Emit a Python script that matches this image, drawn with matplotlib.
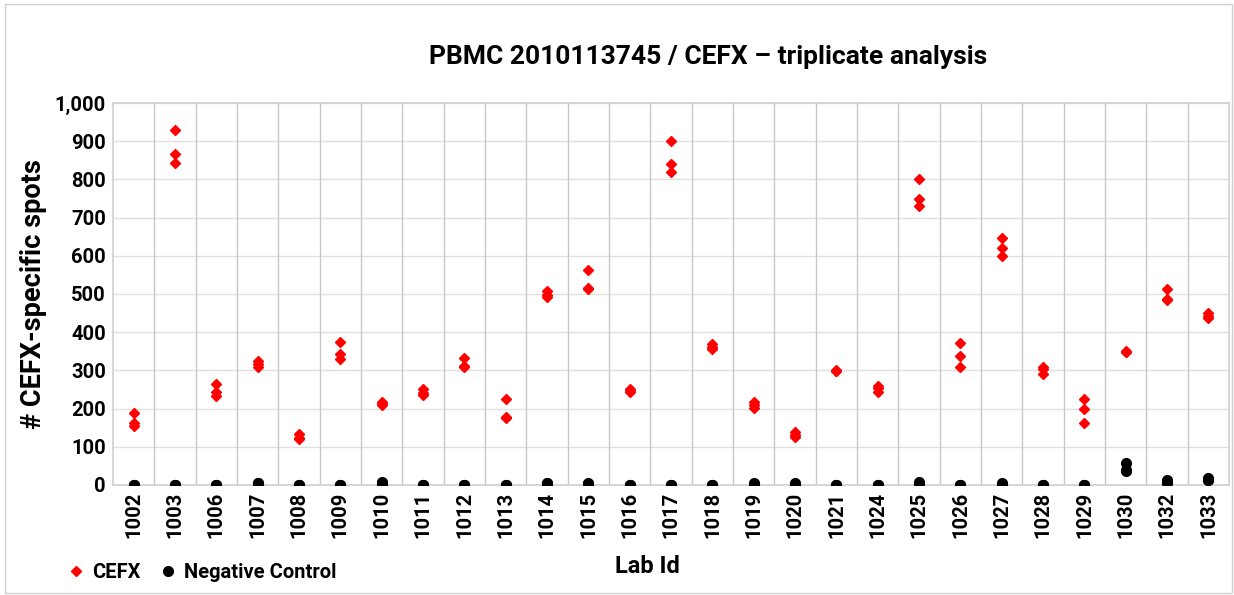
import numpy as np
import matplotlib
matplotlib.use('Agg')
import matplotlib.pyplot as plt
from matplotlib.patches import Rectangle

# Lab ids and triplicate spot counts
labs = ['1002', '1003', '1006', '1007', '1008', '1009', '1010', '1011', '1012',
        '1013', '1014', '1015', '1016', '1017', '1018', '1019', '1020', '1021',
        '1024', '1025', '1026', '1027', '1028', '1029', '1030', '1032', '1033']

cefx = [
    [188, 163, 154],   # 1002
    [929, 866, 844],   # 1003
    [264, 244, 233],   # 1006
    [325, 317, 308],   # 1007
    [133, 122, 120],   # 1008
    [373, 342, 329],   # 1009
    [218, 213, 209],   # 1010
    [251, 240, 236],   # 1011
    [332, 312, 310],   # 1012
    [224, 177, 175],   # 1013
    [507, 497, 491],   # 1014
    [563, 515, 514],   # 1015
    [251, 247, 244],   # 1016
    [901, 839, 818],   # 1017
    [369, 362, 355],   # 1018
    [216, 208, 202],   # 1019
    [138, 130, 125],   # 1020
    [300, 298, 298],   # 1021
    [260, 255, 243],   # 1024
    [801, 748, 730],   # 1025
    [371, 338, 309],   # 1026
    [647, 620, 598],   # 1027
    [310, 303, 290],   # 1028
    [225, 199, 163],   # 1029
    [350, 349, 348],   # 1030
    [513, 486, 484],   # 1032
    [449, 443, 438],   # 1033
]

neg = [
    [1, 0, 0], [0, 0, 0], [0, 0, 0], [6, 4, 2], [0, 0, 0], [1, 0, 0],
    [8, 5, 3], [0, 0, 0], [1, 0, 0], [0, 0, 0], [5, 4, 2], [5, 3, 2],
    [1, 0, 0], [0, 0, 0], [0, 0, 0], [5, 2, 0], [4, 2, 1], [1, 0, 0],
    [0, 0, 0], [8, 3, 1], [0, 0, 0], [4, 2, 1], [0, 0, 0], [0, 0, 0],
    [58, 38, 37], [12, 8, 5], [18, 14, 12],
]

n = len(labs)
FONT = 'Roboto'

fig = plt.figure(figsize=(12.34, 5.95), dpi=100)
ax = fig.add_axes([0.0916, 0.185, 0.9044, 0.642])

for i in range(n):
    ax.plot([i] * 3, neg[i], linestyle='none', marker='o', color='black',
            markersize=7, zorder=3)
    ax.plot([i] * 3, cefx[i], linestyle='none', marker='D', color='#ff0000',
            markersize=5, zorder=4)

ax.set_xlim(-0.5, n - 0.5)
ax.set_ylim(0, 1000)
ax.set_yticks(np.arange(0, 1001, 100))
ax.set_yticklabels(['{:,}'.format(v) for v in range(0, 1001, 100)],
                   fontsize=14.5, fontweight='bold', family=FONT)
ax.set_xticks(range(n))
ax.set_xticklabels(labs, rotation=90, fontsize=14.5, fontweight='bold', family=FONT)
ax.tick_params(length=0, pad=5)

# vertical lines between categories, horizontal gridlines
for b in np.arange(0.5, n - 0.5, 1):
    ax.axvline(b, color='#c8c8c8', linewidth=1, zorder=1)
ax.yaxis.grid(True, color='#e0e0e0', linewidth=1, zorder=0)
ax.set_axisbelow(True)
for s in ax.spines.values():
    s.set_color('#d0d0d0')
    s.set_linewidth(1.2)

ax.set_ylabel('# CEFX-specific spots', fontsize=19.5, fontweight='bold',
              family=FONT, labelpad=6)
fig.text(0.574, 0.905, 'PBMC 2010113745 / CEFX \u2013 triplicate analysis',
         ha='center', va='center', fontsize=19, fontweight='bold', family=FONT)
fig.text(0.525, 0.048, 'Lab Id', ha='center', va='center', fontsize=17,
         fontweight='bold', family=FONT)

h1, = ax.plot([], [], linestyle='none', marker='D', color='#ff0000', markersize=5)
h2, = ax.plot([], [], linestyle='none', marker='o', color='black', markersize=7)
fig.legend([h1, h2], ['CEFX', 'Negative Control'], loc='center left',
           bbox_to_anchor=(0.04, 0.038), ncol=2, frameon=False,
           handlelength=0.8, handletextpad=0.4, columnspacing=1.0,
           prop={'family': FONT, 'weight': 'bold', 'size': 14.5})

fig.patches.append(Rectangle((0.004, 0.004), 0.994, 0.99, transform=fig.transFigure,
                             fill=False, edgecolor='#d0d0d0', linewidth=1))

fig.savefig('out.png', dpi=100)
